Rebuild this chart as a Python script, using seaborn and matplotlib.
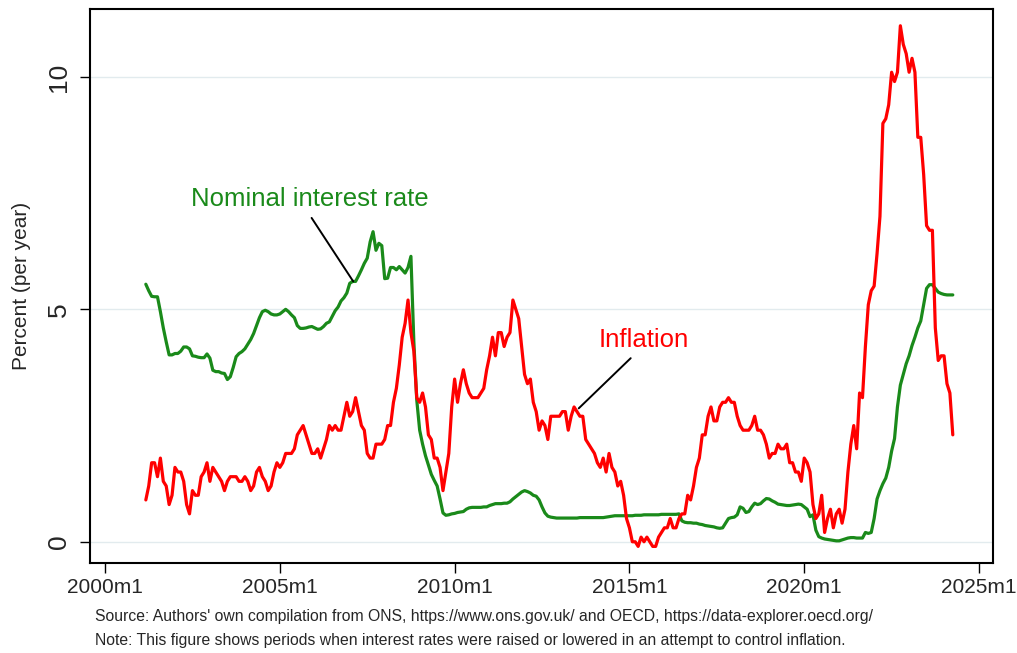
import matplotlib
matplotlib.use('Agg')
import matplotlib.pyplot as plt
from matplotlib import font_manager
import pandas as pd
import seaborn as sns

# monthly observations, 2001m3 - 2024m4
start_month = '2001-03-01'
end_month = '2024-04-01'

inflation = [
    0.9, 1.2, 1.7, 1.7, 1.4, 1.8, 1.3, 1.2, 0.8, 1.0,                   # 2001
    1.6, 1.5, 1.5, 1.3, 0.8, 0.6, 1.1, 1.0, 1.0, 1.4, 1.5, 1.7,         # 2002
    1.3, 1.6, 1.5, 1.4, 1.3, 1.1, 1.3, 1.4, 1.4, 1.4, 1.3, 1.3,         # 2003
    1.4, 1.3, 1.1, 1.2, 1.5, 1.6, 1.4, 1.3, 1.1, 1.2, 1.5, 1.7,         # 2004
    1.6, 1.7, 1.9, 1.9, 1.9, 2.0, 2.3, 2.4, 2.5, 2.3, 2.1, 1.9,         # 2005
    1.9, 2.0, 1.8, 2.0, 2.2, 2.5, 2.4, 2.5, 2.4, 2.4, 2.7, 3.0,         # 2006
    2.7, 2.8, 3.1, 2.8, 2.5, 2.4, 1.9, 1.8, 1.8, 2.1, 2.1, 2.1,         # 2007
    2.2, 2.5, 2.5, 3.0, 3.3, 3.8, 4.4, 4.7, 5.2, 4.5, 4.1, 3.1,         # 2008
    3.0, 3.2, 2.9, 2.3, 2.2, 1.8, 1.8, 1.6, 1.1, 1.5, 1.9, 2.9,         # 2009
    3.5, 3.0, 3.4, 3.7, 3.4, 3.2, 3.1, 3.1, 3.1, 3.2, 3.3, 3.7,         # 2010
    4.0, 4.4, 4.0, 4.5, 4.5, 4.2, 4.4, 4.5, 5.2, 5.0, 4.8, 4.2,         # 2011
    3.6, 3.4, 3.5, 3.0, 2.8, 2.4, 2.6, 2.5, 2.2, 2.7, 2.7, 2.7,         # 2012
    2.7, 2.8, 2.8, 2.4, 2.7, 2.9, 2.8, 2.7, 2.7, 2.2, 2.1, 2.0,         # 2013
    1.9, 1.7, 1.6, 1.8, 1.5, 1.9, 1.6, 1.5, 1.2, 1.3, 1.0, 0.5,         # 2014
    0.3, 0.0, 0.0, -0.1, 0.1, 0.0, 0.1, 0.0, -0.1, -0.1, 0.1, 0.2,      # 2015
    0.3, 0.3, 0.5, 0.3, 0.3, 0.5, 0.6, 0.6, 1.0, 0.9, 1.2, 1.6,         # 2016
    1.8, 2.3, 2.3, 2.7, 2.9, 2.6, 2.6, 2.9, 3.0, 3.0, 3.1, 3.0,         # 2017
    3.0, 2.7, 2.5, 2.4, 2.4, 2.4, 2.5, 2.7, 2.4, 2.4, 2.3, 2.1,         # 2018
    1.8, 1.9, 1.9, 2.1, 2.0, 2.0, 2.1, 1.7, 1.7, 1.5, 1.5, 1.3,         # 2019
    1.8, 1.7, 1.5, 0.8, 0.5, 0.6, 1.0, 0.2, 0.5, 0.7, 0.3, 0.6,         # 2020
    0.7, 0.4, 0.7, 1.5, 2.1, 2.5, 2.0, 3.2, 3.1, 4.2, 5.1, 5.4,         # 2021
    5.5, 6.2, 7.0, 9.0, 9.1, 9.4, 10.1, 9.9, 10.1, 11.1, 10.7, 10.5,    # 2022
    10.1, 10.4, 10.1, 8.7, 8.7, 7.9, 6.8, 6.7, 6.7, 4.6, 3.9, 4.0,      # 2023
    4.0, 3.4, 3.2, 2.3,                                                 # 2024
]

interest_rate = [
    5.54, 5.40, 5.28, 5.27, 5.27, 4.95, 4.60, 4.30, 4.02, 4.02,                     # 2001
    4.05, 4.05, 4.10, 4.19, 4.19, 4.15, 4.00, 3.99, 3.97, 3.96, 3.96, 4.04,         # 2002
    3.95, 3.69, 3.66, 3.66, 3.63, 3.62, 3.49, 3.55, 3.75, 3.98, 4.05, 4.09,         # 2003
    4.15, 4.25, 4.35, 4.48, 4.65, 4.82, 4.95, 4.98, 4.95, 4.90, 4.88, 4.88,         # 2004
    4.90, 4.95, 5.00, 4.95, 4.88, 4.82, 4.65, 4.59, 4.59, 4.60, 4.62, 4.63,         # 2005
    4.60, 4.57, 4.58, 4.63, 4.70, 4.73, 4.85, 4.97, 5.05, 5.18, 5.25, 5.35,         # 2006
    5.56, 5.60, 5.60, 5.72, 5.85, 5.99, 6.10, 6.45, 6.67, 6.27, 6.42, 6.37,         # 2007
    5.66, 5.67, 5.90, 5.90, 5.85, 5.92, 5.85, 5.78, 5.90, 6.14, 4.30, 3.05,         # 2008
    2.40, 2.10, 1.85, 1.65, 1.45, 1.32, 1.20, 0.92, 0.62, 0.57, 0.58, 0.60,         # 2009
    0.61, 0.63, 0.64, 0.65, 0.70, 0.73, 0.74, 0.74, 0.74, 0.74, 0.75, 0.75,         # 2010
    0.78, 0.80, 0.82, 0.82, 0.82, 0.83, 0.83, 0.86, 0.92, 0.97, 1.02, 1.07,         # 2011
    1.10, 1.08, 1.05, 1.00, 0.98, 0.90, 0.75, 0.62, 0.55, 0.53, 0.52, 0.51,         # 2012
    0.51, 0.51, 0.51, 0.51, 0.51, 0.51, 0.51, 0.52, 0.52, 0.52, 0.52, 0.52,         # 2013
    0.52, 0.52, 0.52, 0.52, 0.53, 0.54, 0.55, 0.56, 0.56, 0.56, 0.56, 0.56,         # 2014
    0.56, 0.56, 0.57, 0.57, 0.57, 0.58, 0.58, 0.58, 0.58, 0.58, 0.58, 0.59,         # 2015
    0.59, 0.59, 0.59, 0.59, 0.59, 0.60, 0.45, 0.42, 0.41, 0.41, 0.40, 0.40,         # 2016
    0.38, 0.37, 0.35, 0.34, 0.33, 0.32, 0.30, 0.29, 0.30, 0.40, 0.50, 0.52,         # 2017
    0.53, 0.58, 0.75, 0.72, 0.63, 0.65, 0.75, 0.83, 0.80, 0.82, 0.88, 0.93,         # 2018
    0.92, 0.88, 0.85, 0.81, 0.80, 0.79, 0.78, 0.78, 0.79, 0.80, 0.81, 0.80,         # 2019
    0.75, 0.70, 0.54, 0.58, 0.25, 0.11, 0.08, 0.06, 0.05, 0.04, 0.03, 0.02,         # 2020
    0.02, 0.04, 0.06, 0.08, 0.09, 0.09, 0.08, 0.08, 0.08, 0.20, 0.18, 0.20,         # 2021
    0.50, 0.92, 1.10, 1.25, 1.37, 1.60, 1.95, 2.22, 2.90, 3.37, 3.60, 3.83,         # 2022
    4.00, 4.22, 4.40, 4.60, 4.75, 5.10, 5.45, 5.53, 5.53, 5.45, 5.37, 5.34,         # 2023
    5.32, 5.31, 5.31, 5.31,                                                         # 2024
]

x_ticks = [2000, 2005, 2010, 2015, 2020, 2025]
x_tick_labels = ['2000m1', '2005m1', '2010m1', '2015m1', '2020m1', '2025m1']
y_ticks = [0, 5, 10]
y_tick_labels = ['0', '5', '10']

source_note = "Source: Authors' own compilation from ONS, https://www.ons.gov.uk/ and OECD, https://data-explorer.oecd.org/"
figure_note = "Note: This figure shows periods when interest rates were raised or lowered in an attempt to control inflation."

months = pd.date_range(start_month, end_month, freq='MS')
df = pd.DataFrame({
    'month': months.year + (months.month - 1) / 12,
    'inflation': inflation,
    'interest': interest_rate,
})

sns.set_style('white')
installed = {f.name for f in font_manager.fontManager.ttflist}
narrow = 'Liberation Sans Narrow' in installed
plt.rcParams['font.family'] = ['Liberation Sans', 'DejaVu Sans']
tick_font = 'Liberation Sans Narrow' if narrow else 'Liberation Sans'
xtick_size = 18 if narrow else 15
ytick_size = 22 if narrow else 19
note_size = 13.8 if narrow else 11.3

green = '#1a8a1a'
red = '#ff0000'

fig = plt.figure(figsize=(10.17, 6.53), dpi=100)
ax = fig.add_axes([0.0885, 0.1383, 0.8879, 0.8479])

sns.lineplot(data=df, x='month', y='interest', color=green, linewidth=2.3, ax=ax)
sns.lineplot(data=df, x='month', y='inflation', color=red, linewidth=2.3, ax=ax)

ax.set_xlim(1999.57, 2025.40)
ax.set_ylim(-0.45, 11.46)
ax.set_xticks(x_ticks, x_tick_labels, fontfamily=tick_font, fontsize=xtick_size)
ax.set_yticks(y_ticks, y_tick_labels, fontfamily=tick_font, fontsize=ytick_size,
              rotation=90, va='center')
ax.tick_params(bottom=True, left=True, direction='out', length=7.2, width=1,
               color='black')
ax.tick_params(axis='x', pad=4)
ax.tick_params(axis='y', pad=6.5)
ax.grid(axis='y', color='#e2ebee', linewidth=1.0)
ax.set_axisbelow(True)
for spine in ax.spines.values():
    spine.set_linewidth(1.5)
    spine.set_color('black')

ax.set_xlabel('')
ax.set_ylabel('Percent (per year)', fontsize=15)
ax.yaxis.set_label_coords(-0.0653, 0.5)

ax.annotate('Nominal interest rate', xy=(2007.1, 5.6), xytext=(2005.85, 7.37),
            color=green, fontsize=18.5, ha='center', va='center',
            arrowprops=dict(arrowstyle='-', color='black', lw=1.4,
                            relpos=(0.49, 0.0), shrinkA=3, shrinkB=0))
ax.annotate('Inflation', xy=(2013.55, 2.87), xytext=(2015.40, 4.34),
            color=red, fontsize=18.5, ha='center', va='center',
            arrowprops=dict(arrowstyle='-', color='black', lw=1.4,
                            relpos=(0.43, 0.0), shrinkA=3, shrinkB=0))

fig.text(95 / 1017, 1 - 617 / 653, source_note, fontsize=note_size,
         fontfamily=tick_font, va='center')
fig.text(95 / 1017, 1 - 641 / 653, figure_note, fontsize=note_size,
         fontfamily=tick_font, va='center')

fig.savefig('out.png', dpi=100)
